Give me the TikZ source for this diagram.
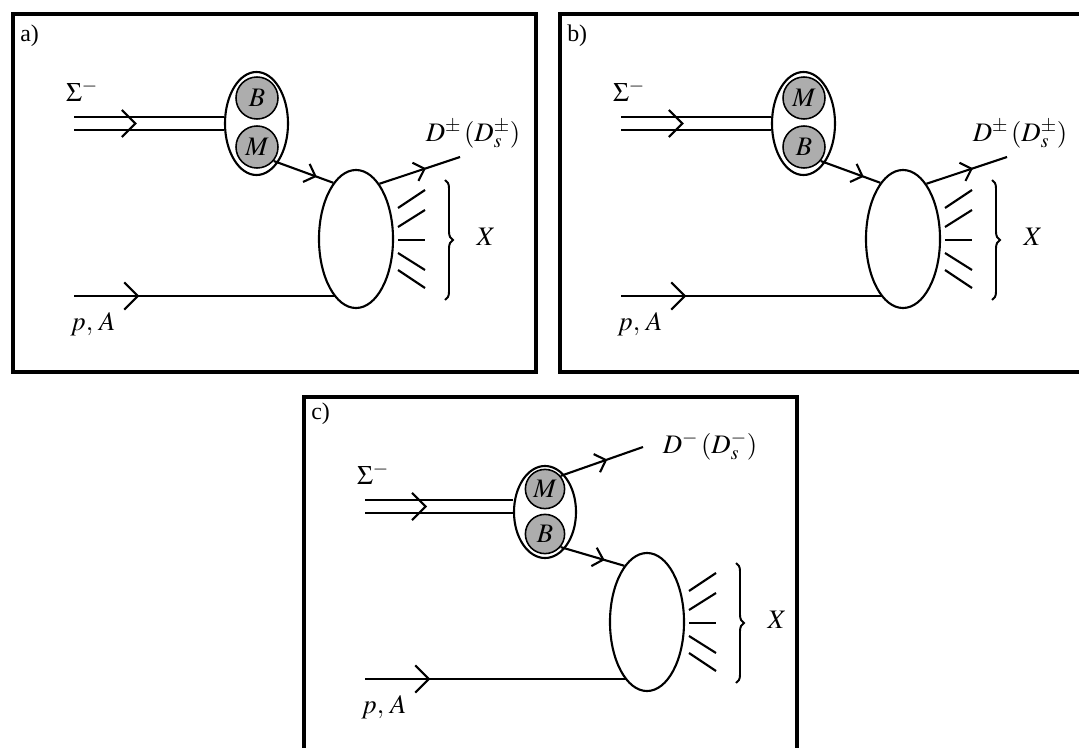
\documentclass[tikz,border=0pt]{standalone}
\usepackage{mathptmx}
\usepackage{fontspec}
\setmainfont{Liberation Serif}
\usetikzlibrary{shapes.geometric,decorations.markings,decorations.pathreplacing,calc}

\begin{document}
\begin{tikzpicture}[
    x=0.025cm, y=-0.025cm,
    line/.style={line width=1.5pt},
    frame/.style={line width=2.8pt},
    comp/.style={ellipse, draw, line width=1.5pt, fill=white, minimum width=15.75mm, minimum height=25.75mm, inner sep=0pt},
    quark/.style={circle, draw, line width=1.1pt, fill=black!32, minimum size=10.5mm, inner sep=0pt, font=\fontsize{19}{22}\selectfont},
    blob/.style={ellipse, draw, line width=1.5pt, fill=white, minimum width=18.5mm, minimum height=34.5mm, inner sep=0pt},
    lab/.style={font=\fontsize{19}{22}\selectfont, inner sep=0pt},
    tag/.style={font=\fontsize{17}{20}\selectfont, inner sep=0pt, anchor=north west},
    chev/.style={postaction={decorate}, decoration={markings, mark=at position #1 with {\draw[line width=1.5pt] (-3.4mm,3.4mm) -- (0,0) -- (-3.4mm,-3.4mm);}}},
    chevs/.style={postaction={decorate}, decoration={markings, mark=at position #1 with {\draw[line width=1.5pt] (-2.4mm,2.4mm) -- (0,0) -- (-2.4mm,-2.4mm);}}},
    brc/.style={line width=1.4pt, decorate, decoration={brace, amplitude=2mm}}
]
\useasboundingbox (0,0) rectangle (1079,748);
\clip (0,0) rectangle (1079,748);

% a) B on top, M goes in
\draw[frame] (13,14) rectangle (536,372);
\node[tag] (taga) at (20,25) {a)};
\node[lab] (siga) at (82,91) {$\Sigma^-$};
\coordinate (ina) at (74,123.5);
\coordinate (ina1) at (74,117);
\coordinate (ina2) at (74,130);
\coordinate (pina) at (74,296);
\node[comp] (compa) at (256.5,123.5) {};
\node[quark] (ba) at (257,98) {$B$};
\node[quark] (ma) at (257,147) {$M$};
\node[blob] (bloba) at (356,239) {};
\coordinate (outa) at (460,157);
\draw[line] (ina1) -- (ina1 -| compa.west);
\draw[line] (ina2) -- (ina2 -| compa.west);
\path[chev=0.41] (ina) -- (compa.west);
\draw[line, chev=0.245] (pina) -- (pina -| bloba.250);
\draw[line, chevs=0.7] (ma.-40) -- (bloba.112);
\draw[line, chevs=0.56] (bloba.67) -- (outa);
\node[lab] (da) at (473,134) {$D^\pm\,(D_s^\pm)$};
\foreach \ya/\yb in {208/190, 227/210, 240/240, 253/270, 270/288}
    \draw[line] (398,\ya) -- (425,\yb);
\draw[brc] (445,180) -- (445,300);
\node[lab] (xa) at (486,237) {$X$};
\node[lab] (pa) at (93,324) {$p,\,A$};

% b) M on top, B goes in
\begin{scope}[shift={(547,0)}]
\draw[frame] (13,14) rectangle (560,372);
\node[tag] (tagb) at (20,25) {b)};
\node[lab] (sigb) at (82,91) {$\Sigma^-$};
\coordinate (inb) at (74,123.5);
\coordinate (inb1) at (74,117);
\coordinate (inb2) at (74,130);
\coordinate (pinb) at (74,296);
\node[comp] (compb) at (256.5,123.5) {};
\node[quark] (mb) at (257,98) {$M$};
\node[quark] (bb) at (257,147) {$B$};
\node[blob] (blobb) at (356,239) {};
\coordinate (outb) at (460,157);
\draw[line] (inb1) -- (inb1 -| compb.west);
\draw[line] (inb2) -- (inb2 -| compb.west);
\path[chev=0.41] (inb) -- (compb.west);
\draw[line, chev=0.245] (pinb) -- (pinb -| blobb.250);
\draw[line, chevs=0.7] (bb.-40) -- (blobb.112);
\draw[line, chevs=0.56] (blobb.67) -- (outb);
\node[lab] (db) at (473,134) {$D^\pm\,(D_s^\pm)$};
\foreach \ya/\yb in {208/190, 227/210, 240/240, 253/270, 270/288}
    \draw[line] (398,\ya) -- (425,\yb);
\draw[brc] (445,180) -- (445,300);
\node[lab] (xb) at (486,237) {$X$};
\node[lab] (pb) at (93,324) {$p,\,A$};
\end{scope}

% c) M goes out, B goes in
\begin{scope}[shift={(291,383)}]
\draw[frame] (13,14) rectangle (506,380);
\node[tag] (tagc) at (20,20) {c)};
\node[lab] (sigc) at (82,91) {$\Sigma^-$};
\coordinate (inc) at (74,123.5);
\coordinate (inc1) at (74,117);
\coordinate (inc2) at (74,130);
\coordinate (pinc) at (74,296);
\node[comp, minimum width=15.5mm, minimum height=23mm] (compc) at (254,129) {};
\node[quark, minimum size=9.8mm] (mc) at (254,106) {$M$};
\node[quark, minimum size=9.8mm] (bc) at (254,151) {$B$};
\node[blob] (blobc) at (356,239) {};
\coordinate (outc) at (352,64);
\draw[line] (inc1) -- (inc1 -| compc.west);
\draw[line] (inc2) -- (inc2 -| compc.west);
\path[chev=0.41] (inc) -- (inc -| compc.west);
\draw[line, chev=0.245] (pinc) -- (pinc -| blobc.250);
\draw[line, chevs=0.55] (mc.40) -- (outc);
\node[lab] (dc) at (419,63) {$D^-\,(D_s^-)$};
\draw[line, chevs=0.67] (bc.-40) -- (blobc.112);
\foreach \ya/\yb in {208/190, 227/210, 240/240, 253/270, 270/288}
    \draw[line] (398,\ya) -- (425,\yb);
\draw[brc] (445,180) -- (445,300);
\node[lab] (xc) at (486,237) {$X$};
\node[lab] (pc) at (93,324) {$p,\,A$};
\end{scope}

\end{tikzpicture}
\end{document}
